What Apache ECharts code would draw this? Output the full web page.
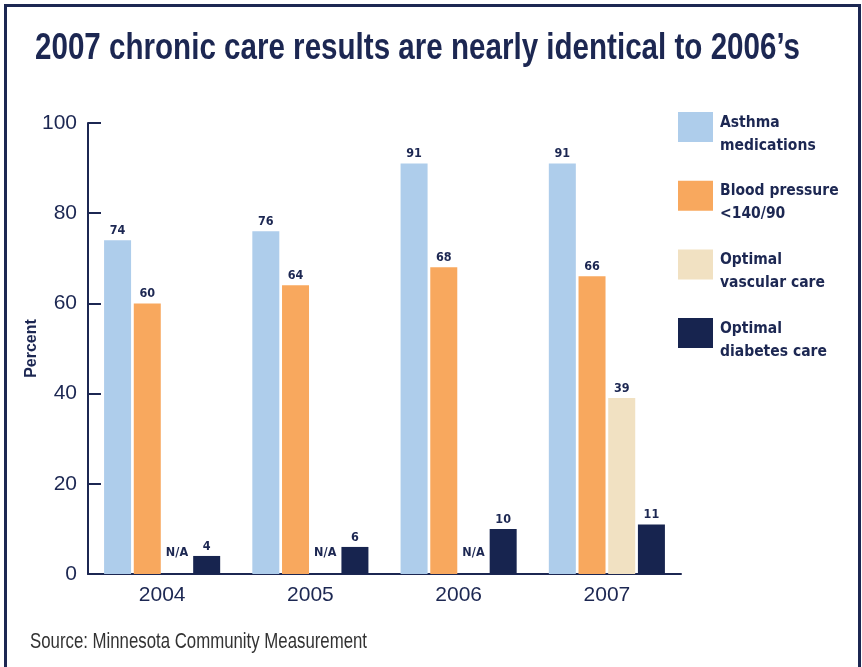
<!DOCTYPE html>
<html>
<head>
<meta charset="utf-8">
<script src="https://cdn.jsdelivr.net/npm/echarts@6/dist/echarts.min.js"></script>
<style>
html,body{margin:0;padding:0;background:#fff;}
#chart{width:862px;height:667px;}
</style>
</head>
<body>
<div id="chart"></div>
<script>
const categories = ['2004', '2005', '2006', '2007'];
const seriesNames = ['Asthma\nmedications', 'Blood pressure\n<140/90', 'Optimal\nvascular care', 'Optimal\ndiabetes care'];
const asthma = [74, 76, 91, 91];
const bloodPressure = [60, 64, 68, 66];
const vascular = [null, null, null, 39]; // null = N/A
const diabetes = [4, 6, 10, 11];
const yTicks = [0, 20, 40, 60, 80, 100];
const titleText = "2007 chronic care results are nearly identical to 2006\u2019s";
const sourceText = 'Source: Minnesota Community Measurement';

const NAVY = '#1c2752';
const SANS = "'Liberation Sans', Arial, sans-serif";
const COND = "'DejaVu Sans Condensed', 'Liberation Sans', sans-serif";
const colors = ['#aecdeb', '#f8a85e', '#f1e1c2', '#17244f'];

// horizontal squeeze factor so that text fits a target width (narrow typeface look)
function fitScale(text, font, width) {
  const ctx = document.createElement('canvas').getContext('2d');
  ctx.font = font;
  return width / ctx.measureText(text).width;
}
const titleScale = fitScale(titleText, 'bold 36px ' + SANS, 765);
const sourceScale = fitScale(sourceText, '22px ' + SANS, 337);

const labelStyle = {
  show: true, position: 'top', distance: 3,
  fontFamily: COND, fontWeight: 'bold', fontSize: 12.5, color: NAVY
};

function mk(name, data, color) {
  return {
    name: name, type: 'bar', data: data, barWidth: 27, barGap: '10%',
    itemStyle: { color: color }, label: labelStyle
  };
}

const vascularData = vascular.map(v => v === null
  ? { value: 0, label: { formatter: 'N/A', distance: 15 } }
  : v);

const chart = echarts.init(document.getElementById('chart'));
chart.setOption({
  animation: false,
  backgroundColor: '#fff',
  color: colors,
  graphic: [{
    type: 'rect', shape: { x: 5.5, y: 5.5, width: 854, height: 700 },
    style: { fill: 'none', stroke: NAVY, lineWidth: 3 }, silent: true
  }, {
    type: 'text', x: 35, y: 31, scaleX: titleScale, originX: 0, originY: 0,
    style: { text: titleText, fontFamily: SANS, fontWeight: 'bold', fontSize: 36, fill: NAVY }
  }, {
    type: 'text', x: 30, y: 631, scaleX: sourceScale, originX: 0, originY: 0,
    style: { text: sourceText, fontFamily: SANS, fontSize: 22, fill: '#333' }
  }],
  legend: {
    orient: 'vertical', left: 673, top: 92,
    itemWidth: 35, itemHeight: 30, itemGap: 8.7,
    icon: 'rect',
    formatter: name => '{s| }\n' + name,
    textStyle: {
      fontFamily: COND, fontWeight: 'bold', fontSize: 15.5, lineHeight: 23, color: NAVY, padding: [0, 0, 0, 2],
      rich: { s: { lineHeight: 14, fontSize: 10 } }
    },
    data: seriesNames
  },
  grid: { left: 88, right: 181, top: 123, bottom: 93 },
  xAxis: {
    type: 'category', data: categories,
    axisLine: { lineStyle: { color: NAVY, width: 2 } },
    axisTick: { inside: true, length: 11, lineStyle: { color: NAVY, width: 2 } },
    axisLabel: { fontFamily: SANS, fontSize: 21, color: NAVY, margin: 11 }
  },
  yAxis: {
    type: 'value', min: yTicks[0], max: yTicks[yTicks.length - 1], interval: 20,
    name: 'Percent', nameLocation: 'middle', nameGap: 48, nameRotate: 90, nameMoveOverlap: false,
    nameTextStyle: { fontFamily: SANS, fontWeight: 'bold', fontSize: 16, color: NAVY },
    axisLine: { show: true, lineStyle: { color: NAVY, width: 2 } },
    axisTick: { show: true, inside: true, length: 13, lineStyle: { color: NAVY, width: 2 } },
    splitLine: { show: false },
    axisLabel: { fontFamily: SANS, fontSize: 21, color: NAVY, margin: 11 }
  },
  series: [
    mk(seriesNames[0], asthma, colors[0]),
    mk(seriesNames[1], bloodPressure, colors[1]),
    mk(seriesNames[2], vascularData, colors[2]),
    mk(seriesNames[3], diabetes, colors[3])
  ]
});
</script>
</body>
</html>
